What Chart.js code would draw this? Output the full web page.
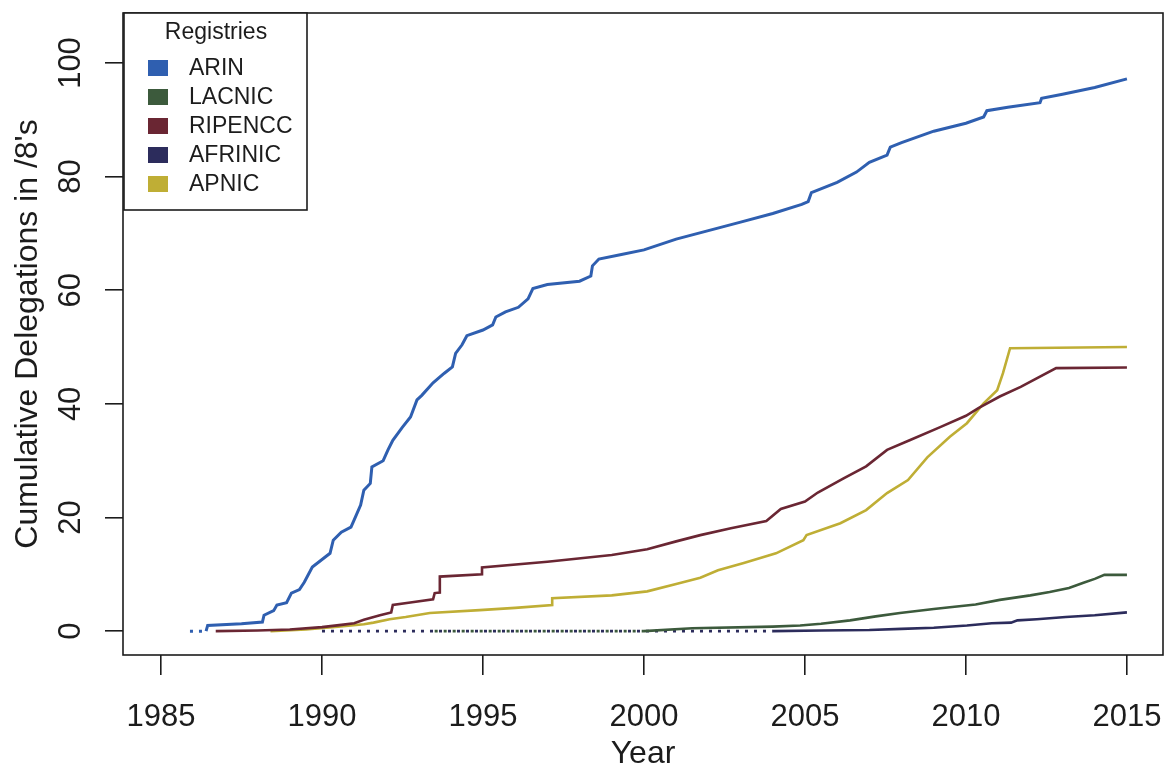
<!DOCTYPE html>
<html>
<head>
<meta charset="utf-8">
<script src="https://cdn.jsdelivr.net/npm/chart.js@4.4.1/dist/chart.umd.min.js"></script>
<style>
  body { margin: 0; background: #fff; }
  canvas { display: block; }
</style>
</head>
<body>
<canvas id="chart" width="1169" height="770"></canvas>
<script>
const registries = ['ARIN', 'LACNIC', 'RIPENCC', 'AFRINIC', 'APNIC'];
const colors = ['#2f5fb0', '#3c5a3c', '#6a2633', '#2c2c5c', '#bfae35'];

const arinYears = [1985.9, 1986.4, 1986.45, 1987.5, 1988.15, 1988.2, 1988.5, 1988.6, 1988.9, 1989.05, 1989.3, 1989.45, 1989.7, 1990.25, 1990.35, 1990.6, 1990.9, 1991.0, 1991.2, 1991.3, 1991.5, 1991.55, 1991.9, 1992.05, 1992.2, 1992.5, 1992.75, 1992.95, 1993.1, 1993.45, 1993.8, 1994.05, 1994.15, 1994.35, 1994.5, 1995.0, 1995.3, 1995.4, 1995.7, 1996.1, 1996.4, 1996.55, 1997.0, 1998.0, 1998.35, 1998.4, 1998.6, 1999.3, 2000.0, 2001.0, 2002.0, 2003.0, 2004.0, 2004.9, 2005.1, 2005.2, 2006.0, 2006.6, 2007.0, 2007.55, 2007.65, 2008.0, 2009.0, 2010.0, 2010.55, 2010.65, 2011.3, 2012.3, 2012.35, 2013.0, 2014.0, 2015.0];
const arinValues = [0, 0, 1.0, 1.3, 1.6, 2.8, 3.6, 4.6, 5.0, 6.7, 7.3, 8.6, 11.3, 13.7, 16.0, 17.4, 18.3, 19.6, 22.2, 24.8, 26.0, 28.9, 30.0, 31.9, 33.6, 35.9, 37.7, 40.7, 41.5, 43.7, 45.4, 46.5, 48.9, 50.4, 52.0, 53.0, 53.9, 55.3, 56.2, 57.0, 58.5, 60.3, 61.0, 61.6, 62.5, 64.3, 65.5, 66.3, 67.1, 69.0, 70.5, 72.0, 73.5, 75.1, 75.6, 77.2, 79.0, 80.8, 82.5, 83.8, 85.2, 86.0, 88.0, 89.4, 90.5, 91.6, 92.2, 93.0, 93.8, 94.5, 95.7, 97.2];

const lacnicYears = [1993.5, 2000.0, 2001.5, 2004.0, 2004.85, 2005.5, 2006.4, 2007.2, 2007.95, 2009.0, 2009.5, 2010.3, 2011.05, 2012.0, 2012.6, 2013.2, 2013.65, 2014.0, 2014.3, 2015.0];
const lacnicValues = [0, 0, 0.5, 0.8, 1.0, 1.3, 1.9, 2.6, 3.2, 3.9, 4.2, 4.7, 5.5, 6.3, 6.9, 7.6, 8.5, 9.2, 9.9, 9.9];

const ripeYears = [1986.7, 1988.0, 1989.0, 1990.0, 1990.6, 1991.0, 1991.3, 1991.8, 1992.15, 1992.2, 1992.8, 1993.45, 1993.5, 1993.66, 1993.66, 1994.97, 1994.97, 1997.0, 1999.0, 2000.1, 2001.0, 2001.75, 2002.7, 2003.8, 2004.25, 2005.0, 2005.4, 2006.2, 2006.9, 2007.55, 2008.25, 2009.2, 2010.0, 2010.4, 2011.05, 2011.7, 2012.8, 2015.0];
const ripeValues = [0, 0.1, 0.3, 0.7, 1.1, 1.4, 2.0, 2.8, 3.3, 4.6, 5.1, 5.6, 6.7, 6.8, 9.6, 10.0, 11.2, 12.2, 13.4, 14.4, 15.8, 16.9, 18.1, 19.4, 21.5, 22.8, 24.4, 26.9, 29.0, 31.9, 33.6, 35.9, 37.9, 39.3, 41.3, 43.0, 46.3, 46.4];

const afrinicYears = [1990.0, 2004.0, 2005.5, 2007.0, 2008.0, 2009.0, 2010.03, 2010.8, 2011.4, 2011.6, 2012.2, 2013.1, 2014.0, 2015.0];
const afrinicValues = [0, 0, 0.1, 0.2, 0.4, 0.6, 1.0, 1.4, 1.5, 1.9, 2.1, 2.5, 2.8, 3.3];

const apnicYears = [1988.4, 1989.5, 1990.5, 1991.3, 1991.6, 1992.1, 1992.6, 1993.35, 1994.9, 1996.0, 1997.15, 1997.15, 1999.0, 2000.1, 2001.0, 2001.75, 2002.3, 2003.1, 2004.1, 2004.95, 2005.05, 2006.1, 2006.9, 2007.55, 2008.2, 2008.8, 2009.5, 2010.03, 2010.55, 2010.97, 2011.15, 2011.37, 2015.0];
const apnicValues = [0, 0.3, 0.8, 1.2, 1.5, 2.1, 2.5, 3.2, 3.7, 4.1, 4.6, 5.8, 6.3, 7.0, 8.3, 9.4, 10.7, 12.0, 13.7, 16.0, 16.9, 19.0, 21.3, 24.3, 26.6, 30.6, 34.2, 36.6, 40.1, 42.4, 45.4, 49.8, 50.0];

const xTicks = [1985, 1990, 1995, 2000, 2005, 2010, 2015];
const yTicks = [0, 20, 40, 60, 80, 100];

const seriesYears = [arinYears, lacnicYears, ripeYears, afrinicYears, apnicYears];
const seriesValues = [arinValues, lacnicValues, ripeValues, afrinicValues, apnicValues];

const FONT = '"Liberation Sans", Arial, Helvetica, sans-serif';
const INK = '#1c1c1c';

const datasets = registries.map((name, i) => ({
  label: name,
  data: seriesYears[i].map((x, j) => ({ x: x, y: seriesValues[i][j] })),
  borderColor: colors[i],
  backgroundColor: colors[i],
  borderWidth: i === 0 ? 3 : 2.6,
  pointRadius: 0,
  tension: 0,
  segment: {
    borderDash: ctx => (ctx.p0.parsed.y === 0 && ctx.p1.parsed.y === 0) ? [3, 6] : undefined
  }
}));

const framePlugin = {
  id: 'frame',
  afterDraw(chart) {
    const { ctx, chartArea: a, scales: { y } } = chart;
    ctx.save();
    ctx.strokeStyle = INK;
    ctx.lineWidth = 1.6;
    ctx.strokeRect(a.left, a.top, a.right - a.left, a.bottom - a.top);

    // y tick labels, rotated like R's default
    ctx.font = '31px ' + FONT;
    ctx.fillStyle = INK;
    ctx.textAlign = 'center';
    ctx.textBaseline = 'middle';
    y.ticks.forEach(t => {
      const py = y.getPixelForValue(t.value);
      ctx.save();
      ctx.translate(71, py);
      ctx.rotate(-Math.PI / 2);
      ctx.fillText(String(t.value), 0, 0);
      ctx.restore();
    });

    // legend box in the top-left corner
    const lx = a.left + 1, ly = a.top, lw = 183, lh = 197;
    ctx.fillStyle = '#fff';
    ctx.fillRect(lx, ly, lw, lh);
    ctx.strokeRect(lx, ly, lw, lh);
    ctx.fillStyle = INK;
    ctx.font = '23px ' + FONT;
    ctx.textAlign = 'center';
    ctx.fillText('Registries', lx + 92, ly + 20);
    ctx.textAlign = 'left';
    chart.data.datasets.forEach((ds, i) => {
      const cy = ly + 55 + i * 29;
      ctx.fillStyle = ds.borderColor;
      ctx.fillRect(lx + 24, cy - 8, 20, 16);
      ctx.fillStyle = INK;
      ctx.fillText(ds.label, lx + 65, cy + 1);
    });
    ctx.restore();
  }
};

new Chart(document.getElementById('chart'), {
  type: 'line',
  data: { datasets: datasets },
  plugins: [framePlugin],
  options: {
    responsive: false,
    animation: false,
    layout: { padding: { left: 0, top: 13, right: 6, bottom: 0 } },
    plugins: { legend: { display: false }, tooltip: { enabled: false } },
    scales: {
      x: {
        type: 'linear',
        min: 1983.82,
        max: 2016.12,
        afterFit: s => { s.height = 115; s.paddingLeft = 0; s.paddingRight = 0; },
        afterBuildTicks: s => { s.ticks = xTicks.map(v => ({ value: v })); },
        border: { display: false },
        grid: { drawOnChartArea: false, drawTicks: true, tickLength: 20, color: INK, lineWidth: 1.6 },
        ticks: { color: INK, padding: 24, maxRotation: 0, font: { family: FONT, size: 31 }, callback: v => String(v) },
        title: { display: true, text: 'Year', color: INK, font: { family: FONT, size: 32, lineHeight: 1 }, padding: { top: 0, bottom: 0 } }
      },
      y: {
        type: 'linear',
        min: -4.2,
        max: 108.8,
        afterFit: s => { s.width = 123; s.paddingTop = 0; s.paddingBottom = 0; },
        afterBuildTicks: s => { s.ticks = yTicks.map(v => ({ value: v })); },
        border: { display: false },
        grid: { drawOnChartArea: false, drawTicks: true, tickLength: 18, color: INK, lineWidth: 1.6 },
        ticks: { color: 'rgba(0,0,0,0)', font: { family: FONT, size: 31 } },
        title: { display: true, text: "Cumulative Delegations in /8's", color: INK, font: { family: FONT, size: 32, lineHeight: 1 }, padding: { top: 12, bottom: 0 } }
      }
    }
  }
});
</script>
</body>
</html>
